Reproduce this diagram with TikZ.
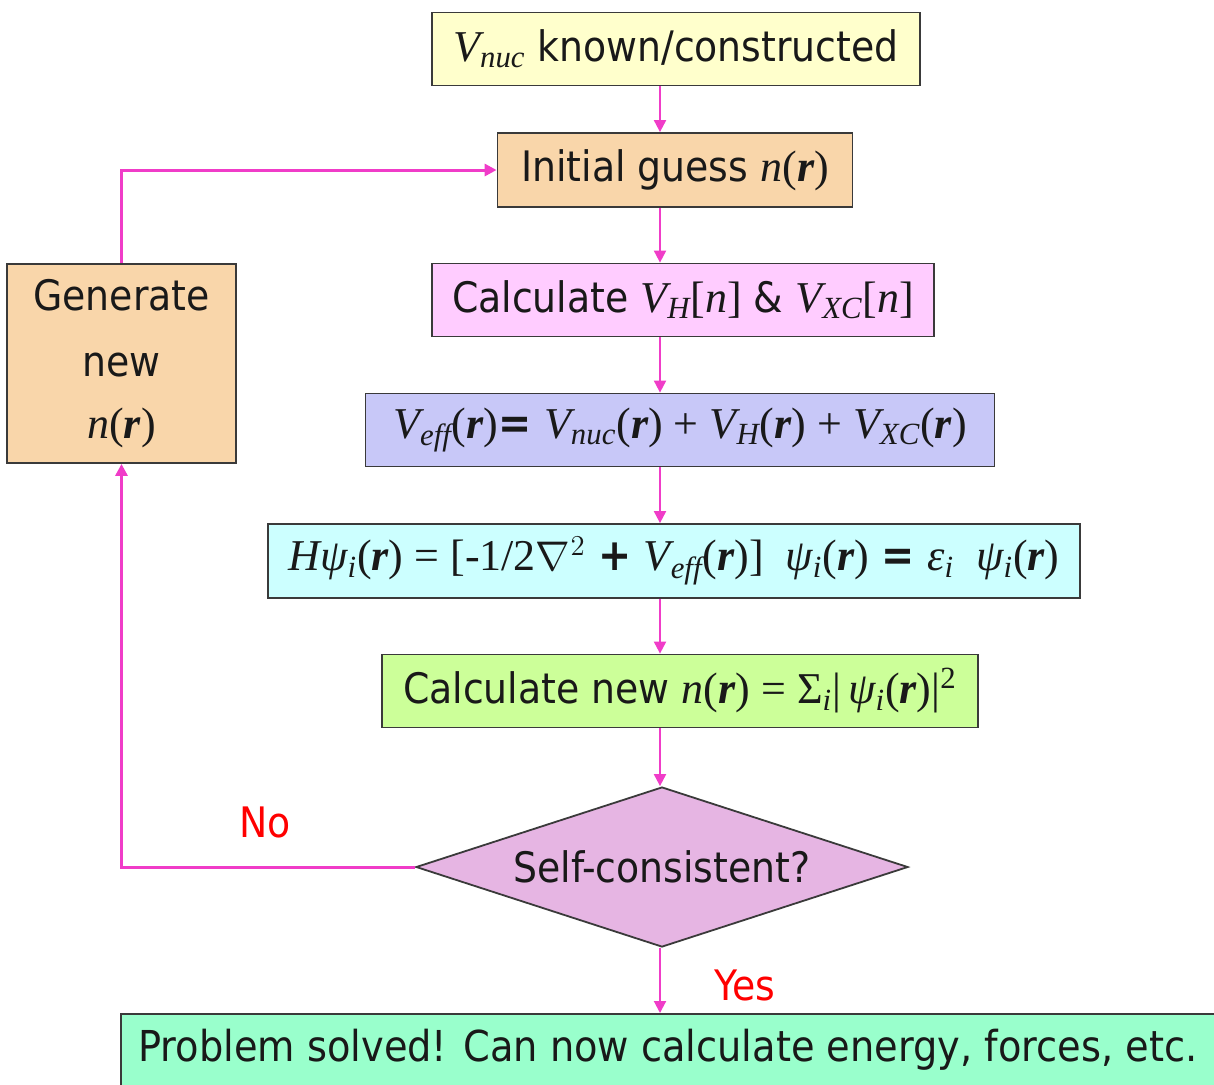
\documentclass[tikz,border=0pt]{standalone}
\usepackage{fontspec}
\setmainfont{DejaVu Sans Condensed}
\newfontfamily\tms{Liberation Serif}
\usetikzlibrary{shapes.geometric, arrows.meta}
\definecolor{pinkline}{HTML}{F03CC8}
\definecolor{boxline}{HTML}{3A3A3A}
\definecolor{knownfill}{HTML}{FFFFCC}
\definecolor{guessfill}{HTML}{F9D6AA}
\definecolor{potfill}{HTML}{FFCCFF}
\definecolor{vefffill}{HTML}{C8C8F8}
\definecolor{ksfill}{HTML}{CCFFFF}
\definecolor{densfill}{HTML}{CCFF99}
\definecolor{checkfill}{HTML}{E6B5E3}
\definecolor{donefill}{HTML}{99FFCC}
\newcommand\mi[1]{{\tms\itshape #1}}
\newcommand\bi[1]{{\tms\bfseries\itshape #1}}
\newcommand\rr{{\tms(}\bi{r}{\tms)}}
\newcommand\nr{\mi{n}\rr}
\newcommand\sub[1]{\textsubscript{\tms\itshape #1}}
\newcommand\mathsize{\fontsize{22}{26}\selectfont}

\begin{document}
\begin{tikzpicture}[x=0.5pt, y=-0.5pt,
    box/.style={draw=boxline, line width=0.9pt, inner sep=0pt, text=black!90, font=\fontsize{21}{25}\selectfont},
    decision/.style={box, shape=diamond, shape aspect=3.1, fill=#1},
    flow/.style={draw=pinkline, line width=1pt, -{Triangle[width=6pt,length=6pt]}},
    loopback/.style={flow, line width=1.5pt},
    answer/.style={text=red, font=\fontsize{21}{25}\selectfont}]
    \useasboundingbox (0,0) rectangle (1214,1084);
    \coordinate (axis) at (660,0);
    % main column
    \node[box, fill=knownfill, minimum width=244pt, minimum height=36.5pt] (known) at (676,49)
        {{\mathsize\mi{V}\sub{nuc}} known/constructed};
    \node[box, fill=guessfill, minimum width=177.5pt, minimum height=37pt] (guess) at (675,170)
        {Initial guess {\mathsize\nr}};
    \node[box, fill=potfill, minimum width=251pt, minimum height=36.5pt] (pot) at (683,300)
        {Calculate {\mathsize\mi{V}\sub{H}{\tms[}\mi{n}{\tms]}} \& {\mathsize\mi{V}\sub{XC}{\tms[}\mi{n}{\tms]}}};
    \node[box, fill=vefffill, minimum width=314.5pt, minimum height=36.5pt] (veff) at (680,430)
        {\mathsize\mi{V}\sub{eff}\rr{\bfseries=} \mi{V}\sub{nuc}\rr{\tms{} + }\mi{V}\sub{H}\rr{\tms{} + }\mi{V}\sub{XC}\rr};
    \node[box, fill=ksfill, minimum width=406pt, minimum height=37pt] (ks) at (674,561)
        {\mathsize\mi{Hψ}\sub{i}\rr{\tms{} = [-1/2}$\nabla^2$ {\bfseries+} \mi{V}\sub{eff}\rr{\tms]}\enspace\mi{ψ}\sub{i}\rr{} {\bfseries=} \mi{ε}\sub{i}\enspace\mi{ψ}\sub{i}\rr};
    \node[box, fill=densfill, minimum width=298pt, minimum height=36.5pt] (dens) at (680,691)
        {Calculate new {\mathsize\nr{\tms{} = }{\tms Σ}\sub{i}{\tms|}\,\mi{ψ}\sub{i}\rr{\tms|}\textsuperscript{\tms 2}}};
    \node[decision=checkfill, minimum width=246pt, minimum height=80pt] (check) at (662,867)
        {Self-consistent?};
    \node[box, fill=donefill, minimum width=552pt, minimum height=38pt, anchor=north west] (done) at (120,1013)
        {};
    \node[font=\fontsize{21.3}{25}\selectfont, text=black!90] (donetext) at (668,1050)
        {Problem solved! Can now calculate energy, forces, etc.};
    % mixing box
    \node[box, fill=guessfill, minimum width=114.5pt, minimum height=99.5pt, align=center] (mix) at (121.5,363.5)
        {Generate\\[8pt] new\\[6pt] {\mathsize\nr}};
    % arrows
    \draw[flow] (known.south -| axis) -- (guess.north -| axis);
    \draw[flow] (guess.south -| axis) -- (pot.north -| axis);
    \draw[flow] (pot.south -| axis) -- (veff.north -| axis);
    \draw[flow] (veff.south -| axis) -- (ks.north -| axis);
    \draw[flow] (ks.south -| axis) -- (dens.north -| axis);
    \draw[flow] (dens.south -| axis) -- (check.north -| axis);
    \draw[flow] (check.south -| axis) -- (done.north -| axis);
    \draw[loopback] (check.west) -| (mix.south);
    \draw[loopback] (mix.north) |- (guess.west);
    \node[answer] (no) at (265,822) {No};
    \node[answer] (yes) at (745,985) {Yes};
\end{tikzpicture}
\end{document}
